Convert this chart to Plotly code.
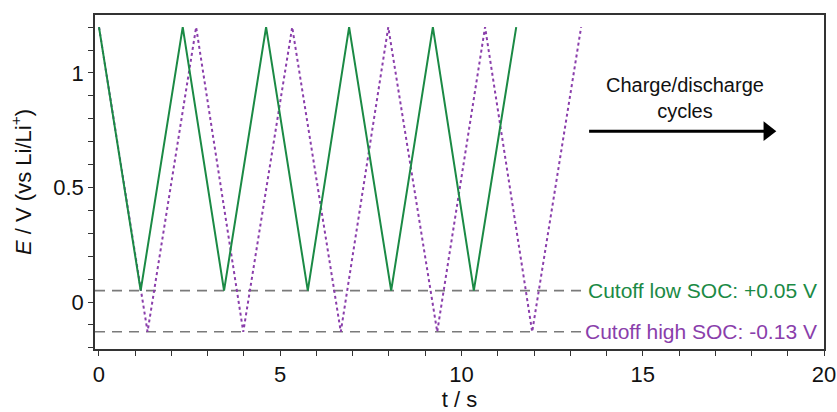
import plotly.graph_objects as go

# Potential sweep vertices (time in s, potential in V vs Li/Li+)
green_t = [0, 1.15, 2.31, 3.45, 4.61, 5.76, 6.90, 8.06, 9.21, 10.34, 11.51]
green_E = [1.2, 0.05, 1.2, 0.05, 1.2, 0.05, 1.2, 0.05, 1.2, 0.05, 1.2]
purple_t = [0, 1.34, 2.68, 3.98, 5.33, 6.67, 7.98, 9.33, 10.65, 11.95, 13.30]
purple_E = [1.2, -0.13, 1.2, -0.13, 1.2, -0.13, 1.2, -0.13, 1.2, -0.13, 1.2]

# Cutoff potentials
cutoff_low_soc = 0.05
cutoff_high_soc = -0.13
cutoff_t = [-0.11, 13.3]

# Direction arrow for successive cycles (time span, potential)
arrow_t = [13.52, 18.45]
arrow_E = 0.746

x_ticks = [0, 5, 10, 15, 20]
y_ticks = [0, 0.5, 1]

GREEN = "#1b8a45"
PURPLE = "#8a3eab"
GRAY = "#7a7a7a"
INK = "#111111"
FONT = "Liberation Sans, Arial, sans-serif"

fig = go.Figure()

for level in (cutoff_low_soc, cutoff_high_soc):
    fig.add_trace(go.Scatter(
        x=cutoff_t, y=[level, level], mode="lines",
        line=dict(color=GRAY, width=1.6, dash="10px,7px"),
        hoverinfo="skip", showlegend=False))

fig.add_trace(go.Scatter(
    x=purple_t, y=purple_E, mode="lines",
    line=dict(color=PURPLE, width=2, dash="dot"), showlegend=False))
fig.add_trace(go.Scatter(
    x=green_t, y=green_E, mode="lines",
    line=dict(color=GREEN, width=2), showlegend=False))

# Arrow shaft and head
fig.add_trace(go.Scatter(
    x=arrow_t, y=[arrow_E, arrow_E], mode="lines",
    line=dict(color="#000000", width=3), hoverinfo="skip", showlegend=False))
fig.add_trace(go.Scatter(
    x=[arrow_t[1]], y=[arrow_E], mode="markers",
    marker=dict(symbol="triangle-right", size=17, color="#000000",
                line=dict(width=0)),
    hoverinfo="skip", showlegend=False))

fig.add_annotation(x=19.87, y=cutoff_low_soc, xanchor="right", yanchor="middle",
                   text=f"Cutoff low SOC: {cutoff_low_soc:+.2f} V", showarrow=False,
                   font=dict(family=FONT, size=21, color=GREEN))
fig.add_annotation(x=19.87, y=cutoff_high_soc, xanchor="right", yanchor="middle",
                   text=f"Cutoff high SOC: {cutoff_high_soc:.2f} V", showarrow=False,
                   font=dict(family=FONT, size=21, color=PURPLE))

fig.add_annotation(x=16.17, y=0.89, text="Charge/discharge<br>cycles", showarrow=False,
                   font=dict(family=FONT, size=20, color=INK))

axis_common = dict(
    showline=True, linecolor="#333333", linewidth=1.5, mirror=True,
    ticks="outside", ticklen=5, tickwidth=1.2, tickcolor="#333333",
    showgrid=False, zeroline=False, automargin=False,
    tickfont=dict(family=FONT, size=22, color=INK),
)

fig.update_xaxes(
    range=[-0.11, 20], tickvals=x_ticks, ticktext=[str(v) for v in x_ticks],
    minor=dict(dtick=1, tick0=0, ticks="outside", ticklen=5, tickcolor="#333333"),
    title=dict(text="t / s", font=dict(family=FONT, size=22, color=INK), standoff=2),
    **axis_common)
fig.update_yaxes(
    range=[-0.205, 1.253], tickvals=y_ticks, ticktext=["0", "0.5", "1"],
    minor=dict(dtick=0.1, tick0=0, ticks="outside", ticklen=5, tickcolor="#333333"),
    title=dict(text="<i>E</i> / V (vs Li/Li<sup>+</sup>)",
               font=dict(family=FONT, size=22, color=INK), standoff=16),
    **axis_common)

fig.update_layout(
    width=837, height=412,
    margin=dict(l=95, r=13, t=15, b=63),
    plot_bgcolor="white", paper_bgcolor="white",
)

fig.write_html("out.html")
